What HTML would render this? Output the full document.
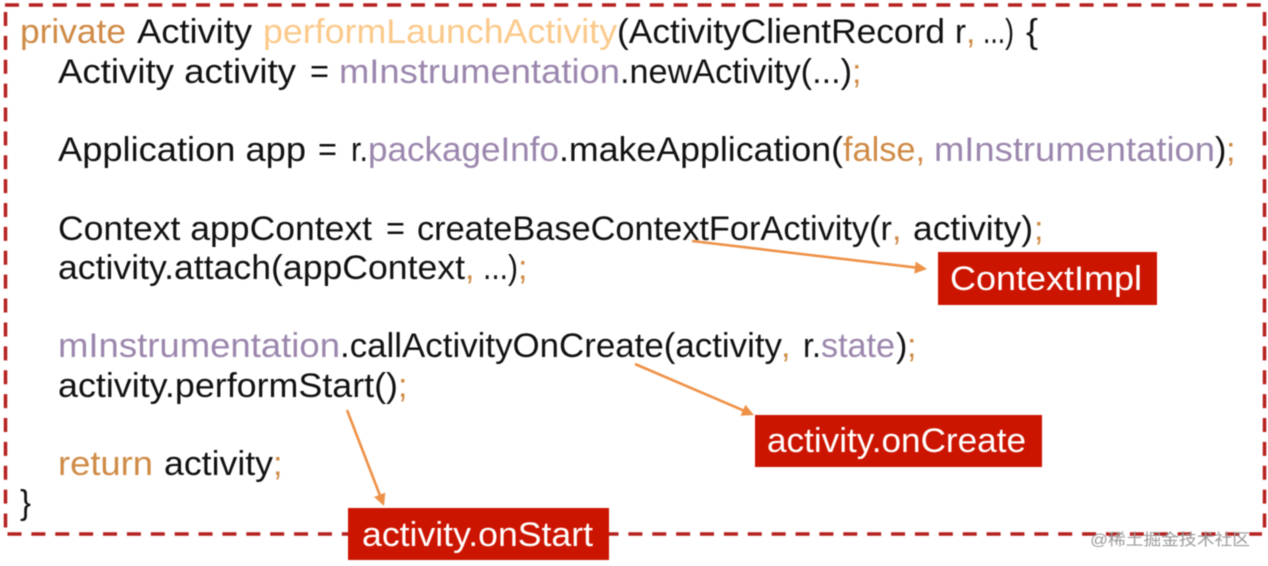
<!DOCTYPE html>
<html>
<head>
<meta charset="utf-8">
<style>
html,body{margin:0;padding:0;background:#fff;width:1268px;height:566px;overflow:hidden}
svg{display:block}
text{font-family:"Liberation Sans","Noto Sans CJK SC",sans-serif;font-size:34px;fill:#111}
.o{fill:#cf8a45}
.y{fill:#fbc98a}
.p{fill:#9b86ad}
.w{fill:#fff;font-size:34px}
.m{font-size:16px;fill:#9a9a9a}
</style>
</head>
<body>
<svg width="1268" height="566" viewBox="0 0 1268 566" xmlns="http://www.w3.org/2000/svg">
<defs>
<filter id="b" x="-2%" y="-2%" width="104%" height="104%" color-interpolation-filters="sRGB"><feGaussianBlur stdDeviation="0.45"/></filter>
</defs>

<g filter="url(#b)">
<g fill="none" stroke="#b5211f" stroke-width="3.5" stroke-dasharray="14 9.88">
<line x1="5" y1="5" x2="1262" y2="5"/>
<line x1="5.5" y1="12" x2="5.5" y2="530"/>
<line x1="1264.5" y1="12" x2="1264.5" y2="530"/>
<line x1="7.5" y1="534" x2="1262" y2="534"/>
</g>

<text class="o" x="20" y="43" textLength="106" lengthAdjust="spacingAndGlyphs">private</text>
<text x="137" y="43" textLength="115" lengthAdjust="spacingAndGlyphs">Activity</text>
<text class="y" x="263" y="43" textLength="354" lengthAdjust="spacingAndGlyphs">performLaunchActivity</text>
<text x="617" y="43" textLength="328" lengthAdjust="spacingAndGlyphs">(ActivityClientRecord</text>
<text x="955" y="43" textLength="11" lengthAdjust="spacingAndGlyphs">r</text>
<text class="o" x="966" y="43">,</text>
<text x="983" y="43" textLength="31" lengthAdjust="spacingAndGlyphs">...)</text>
<text x="1026" y="43" textLength="12" lengthAdjust="spacingAndGlyphs">{</text>

<text x="58" y="83" textLength="238" lengthAdjust="spacingAndGlyphs">Activity activity</text>
<text x="310" y="83" textLength="19" lengthAdjust="spacingAndGlyphs">=</text>
<text class="p" x="339" y="83" textLength="281" lengthAdjust="spacingAndGlyphs">mInstrumentation</text>
<text x="620" y="83" textLength="232" lengthAdjust="spacingAndGlyphs">.newActivity(...)</text>
<text class="o" x="852" y="83">;</text>

<text x="58" y="161" textLength="248" lengthAdjust="spacingAndGlyphs">Application app</text>
<text x="318" y="161" textLength="19" lengthAdjust="spacingAndGlyphs">=</text>
<text x="351" y="161" textLength="17" lengthAdjust="spacingAndGlyphs">r.</text>
<text class="p" x="368" y="161" textLength="191" lengthAdjust="spacingAndGlyphs">packageInfo</text>
<text x="559" y="161" textLength="284" lengthAdjust="spacingAndGlyphs">.makeApplication(</text>
<text class="o" x="843" y="161" textLength="82" lengthAdjust="spacingAndGlyphs">false,</text>
<text class="p" x="934" y="161" textLength="281" lengthAdjust="spacingAndGlyphs">mInstrumentation</text>
<text x="1215" y="161">)</text>
<text class="o" x="1226" y="161">;</text>

<text x="58" y="240" textLength="314" lengthAdjust="spacingAndGlyphs">Context appContext</text>
<text x="386" y="240" textLength="19" lengthAdjust="spacingAndGlyphs">=</text>
<text x="417" y="240" textLength="475" lengthAdjust="spacingAndGlyphs">createBaseContextForActivity(r</text>
<text class="o" x="892" y="240">,</text>
<text x="913" y="240" textLength="120" lengthAdjust="spacingAndGlyphs">activity)</text>
<text class="o" x="1034" y="240">;</text>

<text x="58" y="279" textLength="407" lengthAdjust="spacingAndGlyphs">activity.attach(appContext</text>
<text class="o" x="465" y="279">,</text>
<text x="483" y="279" textLength="35" lengthAdjust="spacingAndGlyphs">...)</text>
<text class="o" x="518" y="279">;</text>

<text class="p" x="58" y="357" textLength="282" lengthAdjust="spacingAndGlyphs">mInstrumentation</text>
<text x="340" y="357" textLength="442" lengthAdjust="spacingAndGlyphs">.callActivityOnCreate(activity</text>
<text class="o" x="781" y="357">,</text>
<text x="803" y="357" textLength="18" lengthAdjust="spacingAndGlyphs">r.</text>
<text class="p" x="821" y="357" textLength="74" lengthAdjust="spacingAndGlyphs">state</text>
<text x="896" y="357">)</text>
<text class="o" x="907" y="357">;</text>

<text x="58" y="397" textLength="340" lengthAdjust="spacingAndGlyphs">activity.performStart()</text>
<text class="o" x="398" y="397">;</text>

<text class="o" x="58" y="475" textLength="95" lengthAdjust="spacingAndGlyphs">return</text>
<text x="164" y="475" textLength="109" lengthAdjust="spacingAndGlyphs">activity</text>
<text class="o" x="273" y="475">;</text>

<text x="20" y="514" textLength="11" lengthAdjust="spacingAndGlyphs">}</text>

<rect x="938" y="252" width="219" height="53" fill="#cc1500"/>
<text class="w" x="950" y="290" textLength="192" lengthAdjust="spacingAndGlyphs">ContextImpl</text>
<rect x="755" y="415" width="287" height="52" fill="#cc1500"/>
<text class="w" x="767" y="452" textLength="259" lengthAdjust="spacingAndGlyphs">activity.onCreate</text>
<rect x="348" y="508" width="261" height="52" fill="#cc1500"/>
<text class="w" x="362" y="546" textLength="231" lengthAdjust="spacingAndGlyphs">activity.onStart</text>

<g stroke="#ee9147" stroke-width="2.6" fill="none">
<line x1="692" y1="241" x2="916" y2="267.6"/>
<line x1="635" y1="364" x2="744" y2="410.7"/>
<line x1="347" y1="410" x2="380" y2="495.5"/>
</g>
<g fill="#ee9147">
<polygon points="927,269 914.3,273.6 915.7,261.6"/>
<polygon points="754,415 740.6,415.8 745.4,404.8"/>
<polygon points="384,506 374.1,497 385.3,492.6"/>
</g>

<text class="m" x="1090" y="545" textLength="160" lengthAdjust="spacingAndGlyphs">@稀土掘金技术社区</text>
</g>
</svg>
</body>
</html>
